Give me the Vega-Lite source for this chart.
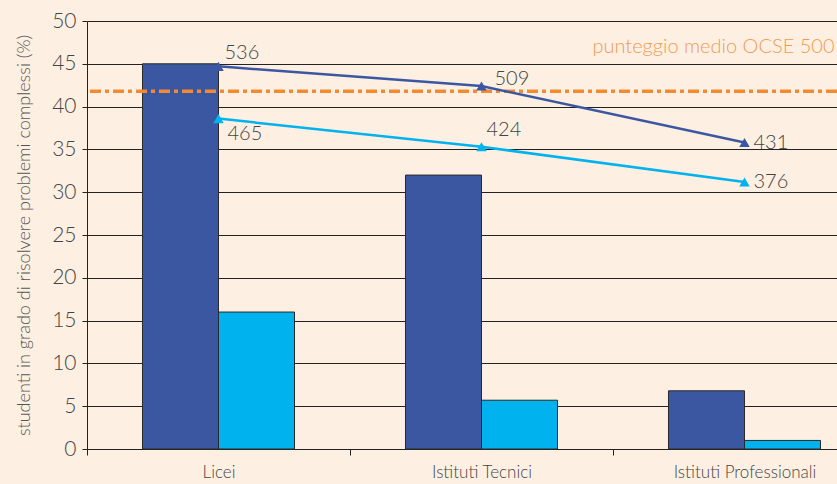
{
  "$schema": "https://vega.github.io/schema/vega-lite/v6.json",
  "width": 750,
  "height": 428,
  "autosize": {"type": "none"},
  "padding": {"left": 87, "top": 21, "right": 0, "bottom": 35},
  "background": "#fdf0e2",
  "config": {
    "view": {"stroke": null},
    "font": "Lato",
    "axis": {"labelFont": "Lato", "titleFont": "Lato"}
  },
  "datasets": {
    "bars": [
      {"scuola": "Licei", "gruppo": "A", "perc": 45},
      {"scuola": "Licei", "gruppo": "B", "perc": 16},
      {"scuola": "Istituti Tecnici", "gruppo": "A", "perc": 32},
      {"scuola": "Istituti Tecnici", "gruppo": "B", "perc": 5.7},
      {"scuola": "Istituti Professionali", "gruppo": "A", "perc": 6.8},
      {"scuola": "Istituti Professionali", "gruppo": "B", "perc": 1.0}
    ],
    "punti": [
      {"scuola": "Licei", "gruppo": "A", "livello": 44.7, "punteggio": 536},
      {"scuola": "Istituti Tecnici", "gruppo": "A", "livello": 42.4, "punteggio": 509},
      {"scuola": "Istituti Professionali", "gruppo": "A", "livello": 35.8, "punteggio": 431},
      {"scuola": "Licei", "gruppo": "B", "livello": 38.6, "punteggio": 465},
      {"scuola": "Istituti Tecnici", "gruppo": "B", "livello": 35.3, "punteggio": 424},
      {"scuola": "Istituti Professionali", "gruppo": "B", "livello": 31.2, "punteggio": 376}
    ],
    "ocse": [{"livello": 41.8, "testo": "punteggio medio OCSE 500"}]
  },
  "encoding": {
    "x": {
      "field": "scuola",
      "type": "nominal",
      "sort": ["Licei", "Istituti Tecnici", "Istituti Professionali"],
      "scale": {"domain": ["Licei", "Istituti Tecnici", "Istituti Professionali"], "range": [0, 789], "paddingInner": 0, "paddingOuter": 0},
      "axis": {
        "title": null,
        "labelAngle": 0,
        "labelFontSize": 17,
        "labelFontWeight": 300,
        "labelColor": "#444444",
        "labelPadding": 9,
        "tickBand": "extent",
        "tickSize": 6,
        "tickColor": "#222222",
        "domainColor": "#222222",
        "grid": false
      }
    }
  },
  "layer": [
    {
      "data": {"name": "bars"},
      "mark": {"type": "bar", "stroke": "#2a2a2a", "strokeWidth": 1},
      "encoding": {
        "xOffset": {"field": "gruppo", "type": "nominal", "scale": {"paddingInner": 0, "paddingOuter": 0.73}},
        "y": {
          "field": "perc",
          "type": "quantitative",
          "scale": {"domain": [0, 50], "nice": false},
          "axis": {
            "title": "studenti in grado di risolvere problemi complessi (%)",
            "titleFontSize": 18,
            "titleFontWeight": 300,
            "titleColor": "#555555",
            "titlePadding": 18,
            "values": [0, 5, 10, 15, 20, 25, 30, 35, 40, 45, 50],
            "labelFontSize": 21,
            "labelFontWeight": 300,
            "labelColor": "#444444",
            "labelPadding": 6,
            "tickSize": 5,
            "tickColor": "#222222",
            "domainColor": "#222222",
            "grid": true,
            "gridColor": "#222222",
            "gridWidth": 1
          }
        },
        "color": {"field": "gruppo", "type": "nominal", "scale": {"domain": ["A", "B"], "range": ["#3c57a1", "#00b2ee"]}, "legend": null}
      }
    },
    {
      "data": {"name": "ocse"},
      "mark": {"type": "rule", "color": "#f28a32", "strokeWidth": 3.5, "strokeDash": [11, 4, 4, 4]},
      "encoding": {"y": {"field": "livello", "type": "quantitative"}, "x": null}
    },
    {
      "data": {"name": "ocse"},
      "mark": {"type": "text", "color": "#f29a52", "fontSize": 20, "fontWeight": 300, "align": "right", "baseline": "middle", "dx": 90},
      "encoding": {"x": {"datum": "Istituti Professionali"}, "y": {"datum": 47}, "text": {"field": "testo"}}
    },
    {
      "data": {"name": "punti"},
      "mark": {"type": "line", "strokeWidth": 2.5},
      "encoding": {
        "y": {"field": "livello", "type": "quantitative"},
        "color": {"field": "gruppo", "type": "nominal", "scale": {"domain": ["A", "B"], "range": ["#3c57a1", "#10b5e3"]}, "legend": null}
      }
    },
    {
      "data": {"name": "punti"},
      "mark": {"type": "point", "shape": "triangle-up", "filled": true, "size": 110, "opacity": 1},
      "encoding": {
        "y": {"field": "livello", "type": "quantitative"},
        "color": {"field": "gruppo", "type": "nominal", "legend": null}
      }
    },
    {
      "data": {"name": "punti"},
      "transform": [{"filter": "datum.punteggio == 536"}],
      "mark": {"type": "text", "fontSize": 20, "fontWeight": 300, "color": "#444444", "align": "left", "baseline": "middle", "dx": 6, "dy": -13},
      "encoding": {"y": {"field": "livello", "type": "quantitative"}, "text": {"field": "punteggio"}}
    },
    {
      "data": {"name": "punti"},
      "transform": [{"filter": "datum.punteggio == 509"}],
      "mark": {"type": "text", "fontSize": 20, "fontWeight": 300, "color": "#444444", "align": "left", "baseline": "middle", "dx": 13, "dy": -7},
      "encoding": {"y": {"field": "livello", "type": "quantitative"}, "text": {"field": "punteggio"}}
    },
    {
      "data": {"name": "punti"},
      "transform": [{"filter": "datum.punteggio == 431 || datum.punteggio == 376"}],
      "mark": {"type": "text", "fontSize": 20, "fontWeight": 300, "color": "#444444", "align": "left", "baseline": "middle", "dx": 9, "dy": 0},
      "encoding": {"y": {"field": "livello", "type": "quantitative"}, "text": {"field": "punteggio"}}
    },
    {
      "data": {"name": "punti"},
      "transform": [{"filter": "datum.punteggio == 465"}],
      "mark": {"type": "text", "fontSize": 20, "fontWeight": 300, "color": "#444444", "align": "left", "baseline": "middle", "dx": 9, "dy": 15},
      "encoding": {"y": {"field": "livello", "type": "quantitative"}, "text": {"field": "punteggio"}}
    },
    {
      "data": {"name": "punti"},
      "transform": [{"filter": "datum.punteggio == 424"}],
      "mark": {"type": "text", "fontSize": 20, "fontWeight": 300, "color": "#444444", "align": "left", "baseline": "middle", "dx": 5, "dy": -17},
      "encoding": {"y": {"field": "livello", "type": "quantitative"}, "text": {"field": "punteggio"}}
    }
  ]
}
